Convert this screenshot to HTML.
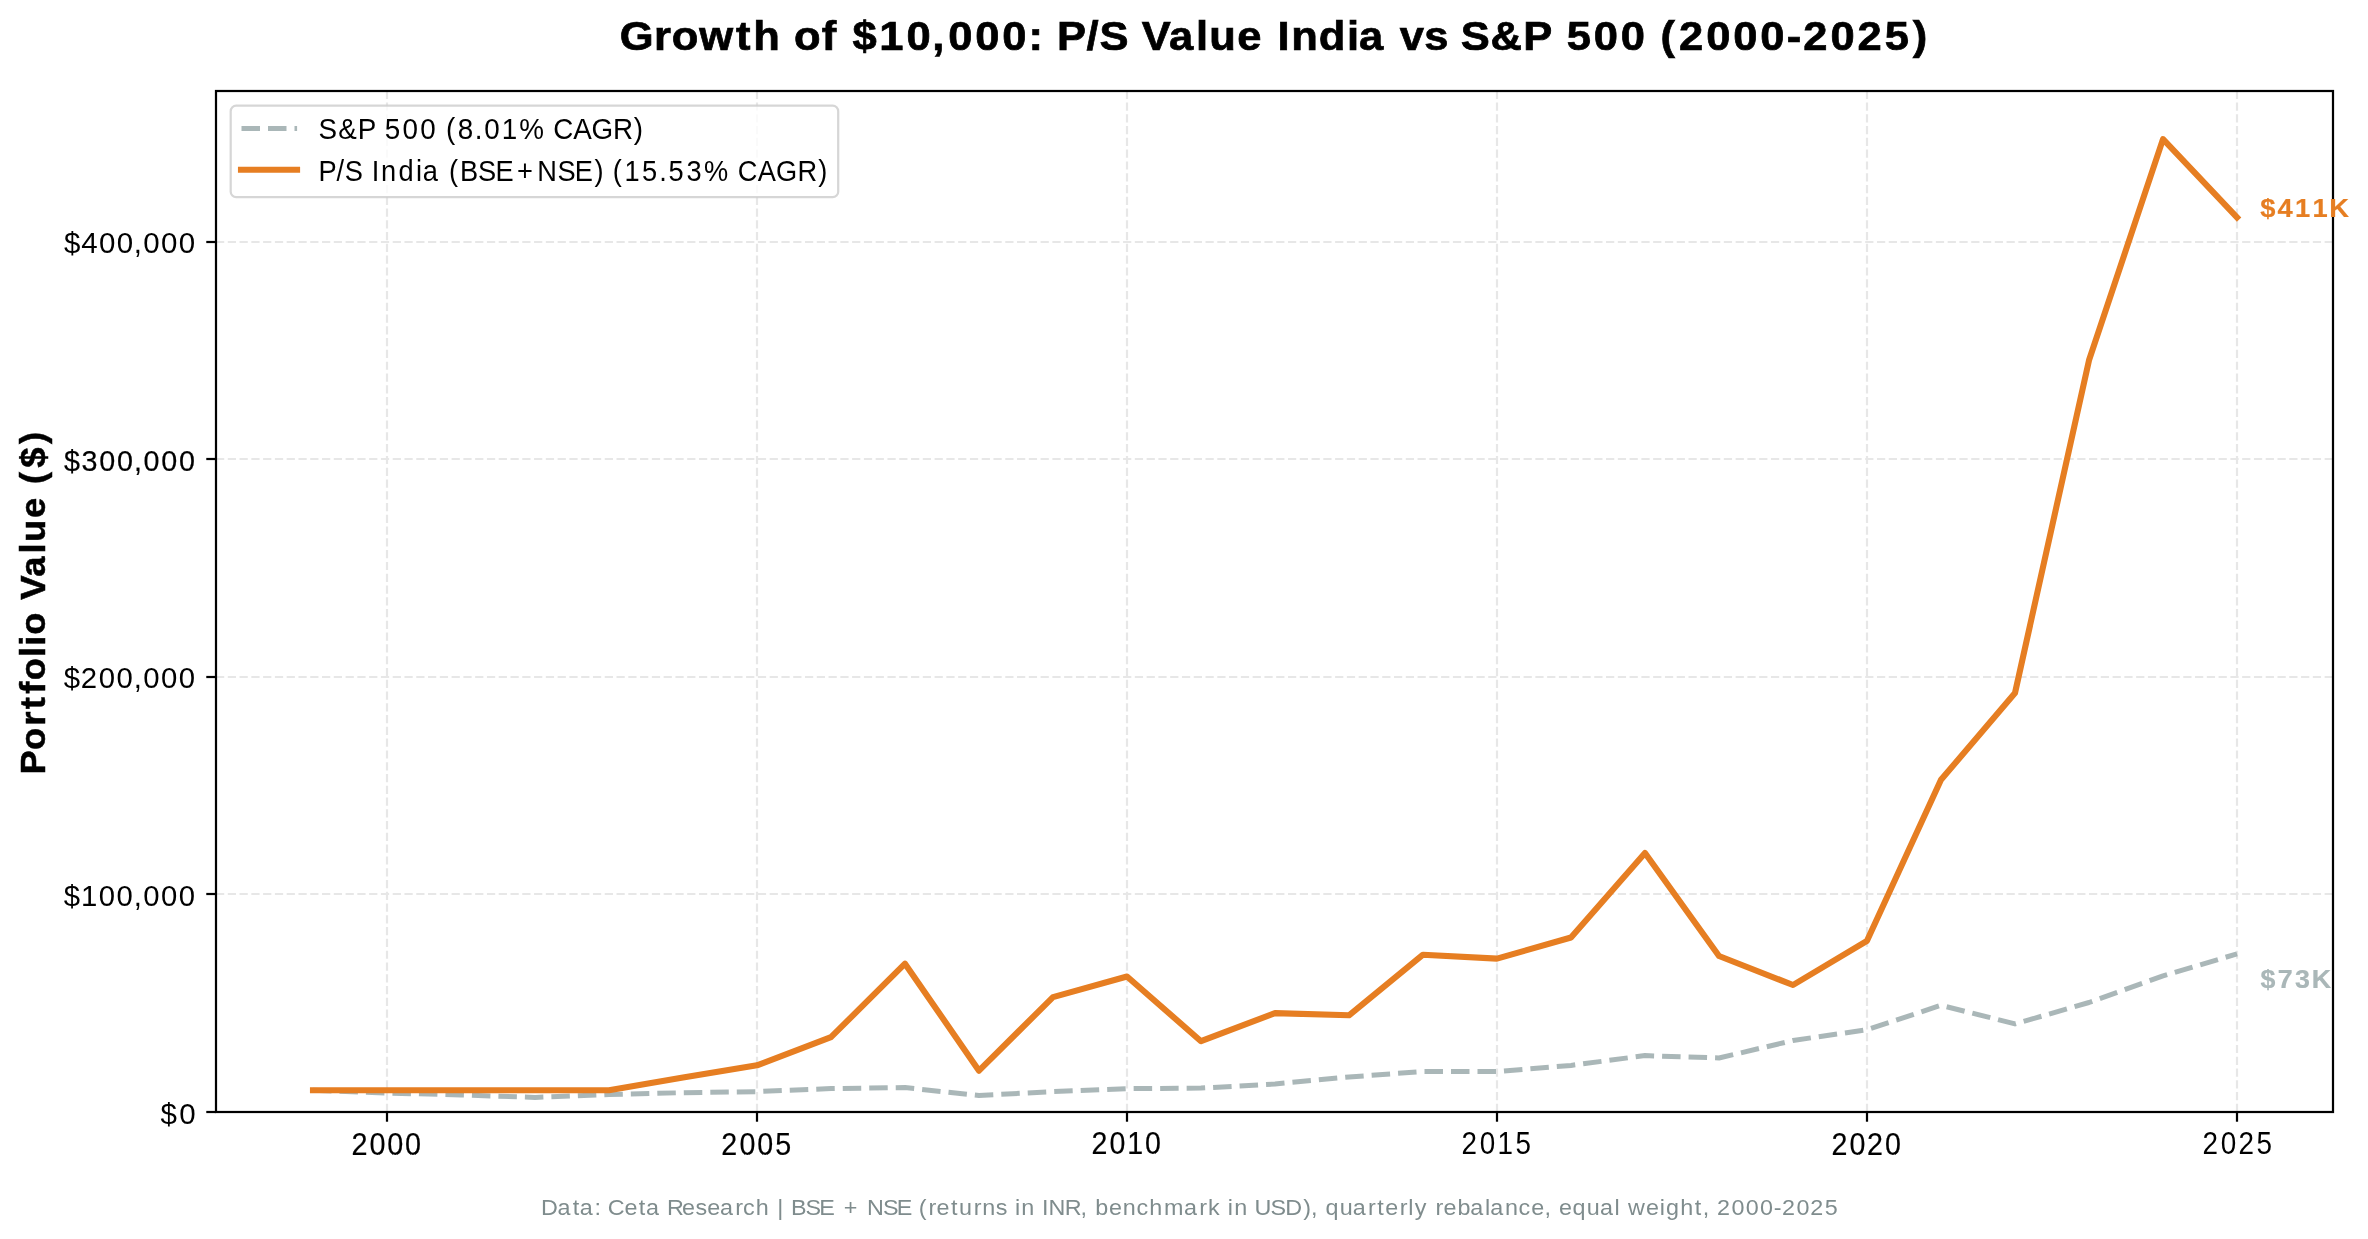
<!DOCTYPE html>
<html><head><meta charset="utf-8"><title>Growth of $10,000: P/S Value India vs S&amp;P 500</title><style>html,body{margin:0;padding:0;background:#fff;width:2368px;height:1239px;overflow:hidden;font-family:"Liberation Sans",sans-serif}svg{display:block;will-change:transform}</style></head><body>
<svg width="2368" height="1239" viewBox="0 0 2368 1239" font-family="'Liberation Sans', sans-serif"><rect width="2368" height="1239" fill="#fff"/>
<g id="grid">
<line x1="216" y1="1112.0" x2="2333" y2="1112.0" stroke="#e7e7e7" stroke-width="2.22" stroke-dasharray="8.22 3.56"/>
<line x1="216" y1="894.0" x2="2333" y2="894.0" stroke="#e7e7e7" stroke-width="2.22" stroke-dasharray="8.22 3.56"/>
<line x1="216" y1="677.0" x2="2333" y2="677.0" stroke="#e7e7e7" stroke-width="2.22" stroke-dasharray="8.22 3.56"/>
<line x1="216" y1="459.0" x2="2333" y2="459.0" stroke="#e7e7e7" stroke-width="2.22" stroke-dasharray="8.22 3.56"/>
<line x1="216" y1="242.0" x2="2333" y2="242.0" stroke="#e7e7e7" stroke-width="2.22" stroke-dasharray="8.22 3.56"/>
<line x1="387" y1="1112" x2="387" y2="91" stroke="#e7e7e7" stroke-width="2.22" stroke-dasharray="8.22 3.56"/>
<line x1="757" y1="1112" x2="757" y2="91" stroke="#e7e7e7" stroke-width="2.22" stroke-dasharray="8.22 3.56"/>
<line x1="1127" y1="1112" x2="1127" y2="91" stroke="#e7e7e7" stroke-width="2.22" stroke-dasharray="8.22 3.56"/>
<line x1="1497" y1="1112" x2="1497" y2="91" stroke="#e7e7e7" stroke-width="2.22" stroke-dasharray="8.22 3.56"/>
<line x1="1867" y1="1112" x2="1867" y2="91" stroke="#e7e7e7" stroke-width="2.22" stroke-dasharray="8.22 3.56"/>
<line x1="2237" y1="1112" x2="2237" y2="91" stroke="#e7e7e7" stroke-width="2.22" stroke-dasharray="8.22 3.56"/>
</g>
<defs><clipPath id="ax"><rect x="216" y="91" width="2117" height="1021"/></clipPath></defs>
<g clip-path="url(#ax)">
<polyline points="313,1090.25 387,1093 461,1095 535,1097.4 609,1094.5 683,1092.7 757,1091.6 831,1088.6 905,1087.6 979,1095.5 1053,1091.6 1127,1088.6 1201,1088.1 1275,1084.0 1349,1077 1423,1071.5 1497,1071.5 1571,1065.4 1645,1055.6 1719,1058 1793,1040.5 1867,1029.7 1941,1005.3 2015,1023.9 2089,1002.5 2163,975.8 2237,953.9" fill="none" stroke="#95a5a6" stroke-width="5.0" stroke-dasharray="18.5 8.0" stroke-linejoin="round" stroke-opacity="0.8"/>
<polyline points="313,1090.25 387,1090.25 461,1090.25 535,1090.25 609,1090.25 683,1077.6 757,1065.3 831,1037.2 905,963.7 979,1070.7 1053,997.1 1127,976.5 1201,1041.2 1275,1013.1 1349,1015.3 1423,954.7 1497,958.6 1571,937.5 1645,853 1719,956 1793,985 1867,940.8 1941,779.8 2015,693 2089,360.3 2163,139.1 2237,217.4" fill="none" stroke="#e67e22" stroke-width="6.1" stroke-linejoin="round" stroke-linecap="square"/>
</g>
<rect x="216" y="91" width="2117" height="1021" fill="none" stroke="#000" stroke-width="2.22"/>
<line x1="206.28" y1="1112.0" x2="216" y2="1112.0" stroke="#000" stroke-width="2.22"/>
<line x1="206.28" y1="894.0" x2="216" y2="894.0" stroke="#000" stroke-width="2.22"/>
<line x1="206.28" y1="677.0" x2="216" y2="677.0" stroke="#000" stroke-width="2.22"/>
<line x1="206.28" y1="459.0" x2="216" y2="459.0" stroke="#000" stroke-width="2.22"/>
<line x1="206.28" y1="242.0" x2="216" y2="242.0" stroke="#000" stroke-width="2.22"/>
<line x1="387" y1="1112" x2="387" y2="1121.72" stroke="#000" stroke-width="2.22"/>
<line x1="757" y1="1112" x2="757" y2="1121.72" stroke="#000" stroke-width="2.22"/>
<line x1="1127" y1="1112" x2="1127" y2="1121.72" stroke="#000" stroke-width="2.22"/>
<line x1="1497" y1="1112" x2="1497" y2="1121.72" stroke="#000" stroke-width="2.22"/>
<line x1="1867" y1="1112" x2="1867" y2="1121.72" stroke="#000" stroke-width="2.22"/>
<line x1="2237" y1="1112" x2="2237" y2="1121.72" stroke="#000" stroke-width="2.22"/>
<rect x="230.7" y="105.6" width="607.5" height="91.6" rx="5.56" ry="5.56" fill="#fff" fill-opacity="0.8" stroke="#ccc" stroke-opacity="0.8" stroke-width="2.22"/>
<line x1="241.5" y1="128.5" x2="297.1" y2="128.5" stroke="#95a5a6" stroke-width="5.0" stroke-dasharray="18.5 8.0" stroke-opacity="0.8"/>
<line x1="241.0" y1="169.7" x2="297.05" y2="169.7" stroke="#e67e22" stroke-width="6.1" stroke-linecap="square"/>
<text transform="scale(1.0766,1)" x="575.58 607.59 623.94 649.61 683.68 699.60 725.48 737.41 763.34 778.44 791.85 816.81 841.96 866.04 880.87 905.96 931.05 955.27 969.97 981.85 1009.30 1021.27 1048.25 1060.62 1085.72 1111.01 1123.21 1149.21 1173.57 1186.54 1199.46 1224.97 1251.08 1262.38 1287.75 1300.17 1322.90 1345.36 1356.93 1384.47 1414.85 1441.99 1455.26 1480.30 1505.39 1529.80 1542.31 1559.57 1584.84 1609.92 1635.01 1659.53 1675.02 1700.29 1725.31 1750.62 1776.72" y="49.70" font-size="40.44" font-weight="bold" fill="#000" stroke="#000" stroke-width="0.70">Growth of $10,000: P/S Value India vs S&amp;P 500 (2000-2025)</text>
<text transform="scale(0.9629,1)" x="330.77 351.21 371.46 389.87 399.55 417.99 436.44 454.32 463.06 475.29 493.03 502.83 521.15 539.33 566.32 574.47 595.35 614.27 636.65 658.12" y="138.60" font-size="28.89" font-weight="normal" fill="#000">S&amp;P 500 (8.01% CAGR)</text>
<text transform="scale(0.9247,1)" x="344.57 363.90 372.96 392.84 402.10 412.10 430.92 449.77 457.18 476.33 485.48 497.37 516.94 535.75 559.22 581.13 602.87 621.68 642.85 653.47 662.62 675.27 694.36 712.86 723.05 742.28 761.29 789.20 797.83 819.55 839.29 862.59 884.80" y="180.70" font-size="29.44" font-weight="normal" fill="#000">P/S India (BSE+NSE) (15.53% CAGR)</text>
<text transform="scale(1.0207,1)" x="62.62 79.68 96.95 114.35 131.15 140.44 157.83 175.22" y="252.55" font-size="28.89" font-weight="normal" fill="#000">$400,000</text>
<text transform="scale(0.9941,1)" x="64.50 82.04 99.84 117.68 134.82 144.45 162.29 180.13" y="470.55" font-size="28.89" font-weight="normal" fill="#000" stroke="#000" stroke-width="0.20">$300,000</text>
<text transform="scale(1.0156,1)" x="62.72 79.51 97.23 114.71 131.59 140.94 158.42 175.90" y="687.55" font-size="28.89" font-weight="normal" fill="#000">$200,000</text>
<text transform="scale(0.9770,1)" x="65.21 82.88 101.08 119.25 136.79 146.51 164.68 182.85" y="905.55" font-size="30.00" font-weight="normal" fill="#000">$100,000</text>
<text transform="scale(1.0227,1)" x="156.95 175.32" y="1123.55" font-size="28.89" font-weight="normal" fill="#000">$0</text>
<text transform="scale(0.9262,1)" x="379.39 398.87 418.09 437.31" y="1154.55" font-size="31.11" font-weight="normal" fill="#000" stroke="#000" stroke-width="0.20">2000</text>
<text transform="scale(0.9377,1)" x="769.14 788.55 807.70 826.73" y="1154.55" font-size="30.56" font-weight="normal" fill="#000" stroke="#000" stroke-width="0.20">2005</text>
<text transform="scale(0.9018,1)" x="1210.38 1230.42 1250.04 1269.83" y="1153.55" font-size="31.67" font-weight="normal" fill="#000" stroke="#000" stroke-width="0.20">2010</text>
<text transform="scale(0.8938,1)" x="1635.16 1655.56 1675.55 1695.55" y="1153.55" font-size="31.11" font-weight="normal" fill="#000">2015</text>
<text transform="scale(0.9363,1)" x="1956.10 1975.40 1994.05 2013.36" y="1154.55" font-size="30.56" font-weight="normal" fill="#000" stroke="#000" stroke-width="0.20">2020</text>
<text transform="scale(0.8956,1)" x="2459.34 2479.70 2499.37 2519.61" y="1153.55" font-size="31.11" font-weight="normal" fill="#000">2025</text>
<text transform="rotate(-90) scale(1.0319,1)" x="-750.45 -726.72 -703.38 -687.35 -672.28 -659.20 -636.71 -625.69 -615.03 -592.47 -581.22 -558.83 -536.27 -525.23 -501.96 -480.29 -469.02 -453.40 -430.22" y="44.65" font-size="35.33" font-weight="bold" fill="#000" stroke="#000" stroke-width="0.50">Portfolio Value ($)</text>
<text transform="scale(1.0317,1)" x="2190.80 2207.44 2224.44 2241.35 2257.67" y="216.60" font-size="26.50" font-weight="bold" fill="#e67e22" stroke="#e67e22" stroke-width="0.20">$411K</text>
<text transform="scale(1.0317,1)" x="2191.13 2207.69 2224.56 2240.77" y="987.65" font-size="26.00" font-weight="bold" fill="#95a5a6" stroke="#95a5a6" stroke-width="0.20" stroke-opacity="0.8" fill-opacity="0.8">$73K</text>
<text transform="scale(1.0951,1)" x="494.04 509.06 522.94 529.49 542.88 549.53 555.04 570.29 583.34 589.89 603.08 609.00 622.81 635.00 645.87 657.49 671.42 678.41 690.11 702.76 709.65 716.23 722.29 735.50 748.19 762.02 770.54 785.54 791.67 806.29 818.98 832.81 838.92 847.94 855.27 868.33 875.82 889.27 896.91 909.37 920.15 926.86 932.65 945.27 951.55 957.34 972.20 986.62 993.23 1000.11 1012.73 1025.36 1037.73 1049.42 1062.87 1081.09 1095.02 1103.16 1114.48 1121.19 1126.98 1139.60 1145.57 1160.13 1173.74 1190.18 1197.17 1203.77 1210.40 1223.37 1235.34 1249.27 1257.68 1265.06 1278.16 1286.05 1291.98 1303.56 1310.82 1318.15 1330.88 1342.67 1356.04 1360.82 1374.29 1386.65 1398.19 1410.34 1416.94 1423.54 1436.01 1448.99 1460.95 1474.33 1479.85 1486.68 1503.12 1515.67 1521.31 1534.33 1547.69 1554.77 1561.37 1567.87 1581.04 1594.06 1607.07 1619.68 1627.24 1640.41 1653.16 1666.25" y="1214.65" font-size="21.33" font-weight="normal" fill="#7f8c8d">Data: Ceta Research | BSE + NSE (returns in INR, benchmark in USD), quarterly rebalance, equal weight, 2000-2025</text>
</svg>
</body></html>
